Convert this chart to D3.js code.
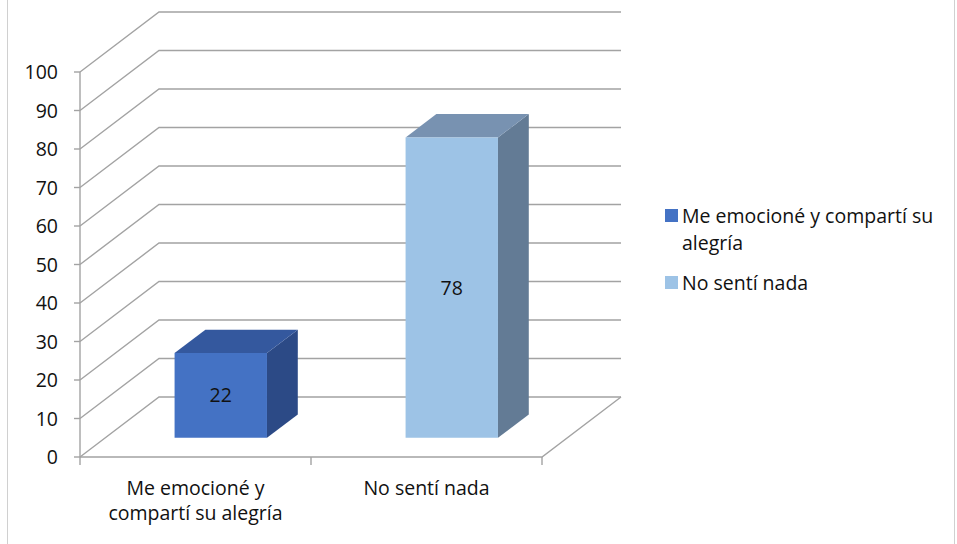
<!DOCTYPE html>
<html>
<head>
<meta charset="utf-8">
<script src="https://cdn.jsdelivr.net/npm/d3@7"></script>
<style>
	body { margin:0; background:#fff; }
	text { font-family: "Open Sans", "Noto Sans", sans-serif; fill:#111; }
</style>
</head>
<body>
<div id="chart"></div>
<script>
var categories = ["Me emocioné y compartí su alegría", "No sentí nada"];
var axisLabels = [["Me emocioné y", "compartí su alegría"], ["No sentí nada"]];
var legendLabels = [["Me emocioné y compartí su", "alegría"], ["No sentí nada"]];
var values = [22, 78];
var yTicks = [0, 10, 20, 30, 40, 50, 60, 70, 80, 90, 100];

var frontColours = ["#4472c4", "#9dc3e6"];
var topColours = ["#34589e", "#7892b1"];
var sideColours = ["#2c4a86", "#637b95"];

var WIDTH = 957, HEIGHT = 544;
var DEPTH_X = 79, DEPTH_Y = -60; // oblique offset of the back wall
var BAR_Z0 = 0.32, BAR_Z1 = 0.71;
var GRID = "#a3a3a3";
var FONT = 19.5;

var svg = d3.select('#chart').append('svg')
	.attr('width', WIDTH).attr('height', HEIGHT);

// chart border
svg.append('rect').attr('x', 7.5).attr('y', -2).attr('width', 947).attr('height', HEIGHT + 4)
	.attr('fill', 'none').attr('stroke', '#d0d0d0');

var x = d3.scaleBand().domain(categories).range([80, 542])
	.paddingInner(0.6).paddingOuter(0.3);
var y = d3.scaleLinear().domain([0, 100]).range([457, 72]);

// project a point (px on the front plane, value, depth 0..1)
function proj(px, v, z) {
	return [px + z * DEPTH_X, y(v) + z * DEPTH_Y];
}
var line = d3.line();

var x0 = x.range()[0], x1 = x.range()[1];
var walls = svg.append('g').attr('fill', 'none').attr('stroke', GRID).attr('stroke-width', 1.4);
// grid lines: side wall diagonal then back wall horizontal
yTicks.forEach(function(t) {
	walls.append('path').attr('d', line([proj(x0, t, 0), proj(x0, t, 1), proj(x1, t, 1)]));
});
// floor
walls.append('path').attr('d', line([proj(x0, 0, 0), proj(x1, 0, 0), proj(x1, 0, 1)]));
// front value axis
walls.append('path').attr('d', line([proj(x0, 0, 0), proj(x0, 100, 0)]));
yTicks.forEach(function(t) {
	walls.append('path').attr('d', line([[x0 - 6, y(t)], [x0, y(t)]]));
});
// category ticks
[x0, (x0 + x1) / 2, x1].forEach(function(cx) {
	walls.append('path').attr('d', line([[cx, y(0)], [cx, y(0) + 8]]));
});

// y tick labels
svg.append('g').selectAll('text').data(yTicks).join('text')
	.attr('x', 58).attr('y', function(d){ return y(d); })
	.attr('dy', '0.36em').attr('text-anchor', 'end')
	.attr('font-size', FONT).text(function(d){ return d; });

// bars
var bars = svg.append('g').selectAll('g').data(categories).join('g');
bars.each(function(c, i) {
	var g = d3.select(this);
	var bx0 = x(c), bx1 = x(c) + x.bandwidth(), v = values[i];
	// side face
	g.append('path').attr('fill', sideColours[i])
		.attr('d', line([proj(bx1, 0, BAR_Z0), proj(bx1, 0, BAR_Z1), proj(bx1, v, BAR_Z1), proj(bx1, v, BAR_Z0)]) + 'Z');
	// top face
	g.append('path').attr('fill', topColours[i])
		.attr('d', line([proj(bx0, v, BAR_Z0), proj(bx0, v, BAR_Z1), proj(bx1, v, BAR_Z1), proj(bx1, v, BAR_Z0)]) + 'Z');
	// front face
	g.append('path').attr('fill', frontColours[i])
		.attr('d', line([proj(bx0, 0, BAR_Z0), proj(bx1, 0, BAR_Z0), proj(bx1, v, BAR_Z0), proj(bx0, v, BAR_Z0)]) + 'Z');
	var c0 = proj((bx0 + bx1) / 2, v / 2, BAR_Z0);
	g.append('text').attr('x', c0[0]).attr('y', c0[1]).attr('dy', '0.36em')
		.attr('text-anchor', 'middle').attr('font-size', FONT).text(v);
});

// category labels
svg.append('g').selectAll('text').data(categories).join('text')
	.attr('text-anchor', 'middle').attr('font-size', FONT)
	.each(function(c, i) {
		var t = d3.select(this);
		axisLabels[i].forEach(function(s, j) {
			t.append('tspan').attr('x', x(c) + x.bandwidth() / 2).attr('y', 495 + j * 25).text(s);
		});
	});

// legend
var legend = svg.append('g').attr('transform', 'translate(665,209)');
var legendY = [0, 67];
legendLabels.forEach(function(lines, i) {
	legend.append('rect').attr('x', 0).attr('y', legendY[i]).attr('width', 13).attr('height', 13)
		.attr('fill', frontColours[i]);
	lines.forEach(function(s, j) {
		legend.append('text').attr('x', 17).attr('y', legendY[i] + 14 + j * 27)
			.attr('font-size', FONT).text(s);
	});
});
</script>
</body>
</html>
